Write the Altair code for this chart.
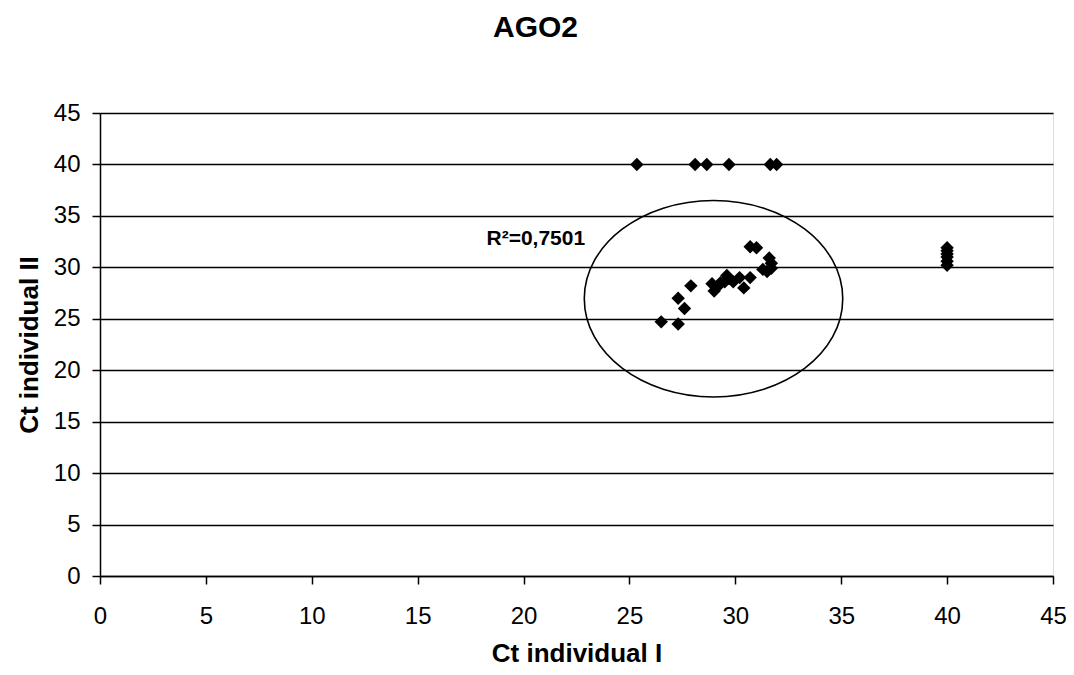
import altair as alt
import pandas as pd

# ---- data ----
ct_individual_i = [
    26.5, 27.3, 27.6, 27.3, 27.9, 28.9, 29.0, 29.2, 29.3, 29.5, 29.6, 29.7,
    29.9, 30.2, 30.4, 30.7, 30.7, 31.0, 31.3, 31.5, 31.6, 31.7, 31.7,
    25.35, 28.1, 28.65, 29.7, 31.65, 31.95,
    40.0, 40.0, 40.0, 40.0, 40.0, 40.0,
]
ct_individual_ii = [
    24.7, 24.5, 26.0, 27.0, 28.2, 28.4, 27.7, 28.2, 28.5, 28.6, 29.2, 28.9,
    28.6, 29.0, 28.0, 29.0, 32.0, 31.9, 29.8, 29.6, 30.9, 30.4, 29.9,
    40.0, 40.0, 40.0, 40.0, 40.0, 40.0,
    30.2, 30.6, 31.0, 31.3, 31.6, 31.9,
]
x_ticks = [0, 5, 10, 15, 20, 25, 30, 35, 40, 45]
y_ticks = [0, 5, 10, 15, 20, 25, 30, 35, 40, 45]

chart_title = "AGO2"
x_title = "Ct individual I"
y_title = "Ct individual II"
r2_text = ["R²=0,7501"]
r2_x = [18.25]
r2_y = [32.2]
ellipse_x = [28.97]
ellipse_y = [26.95]

FONT = "Liberation Sans"
ELLIPSE_PATH = ("M1,0 C1,0.42 0.5523,0.7605 0,0.7605 "
                "C-0.5523,0.7605 -1,0.42 -1,0 "
                "C-1,-0.42 -0.5523,-0.7605 0,-0.7605 "
                "C0.5523,-0.7605 1,-0.42 1,0 Z")

df = pd.DataFrame({"x": ct_individual_i, "y": ct_individual_ii})
ell_df = pd.DataFrame({"x": ellipse_x, "y": ellipse_y})
lbl_df = pd.DataFrame({"x": r2_x, "y": r2_y, "t": r2_text})

xscale = alt.Scale(domain=[0, 45], nice=False, zero=False)
yscale = alt.Scale(domain=[0, 45], nice=False, zero=False)

x_axis = alt.Axis(
    values=x_ticks, title=x_title, grid=False,
    domainColor="black", domainWidth=1.5, tickColor="black", tickWidth=1.5,
    tickSize=8, labelFont=FONT, labelFontSize=24, labelColor="black",
    labelPadding=20, labelFlush=False,
    titleFont=FONT, titleFontSize=26, titleFontWeight="bold", titleColor="black",
    titleBaseline="alphabetic", titleY=85,
)
y_axis = alt.Axis(
    values=y_ticks, title=y_title, grid=True, gridColor="black", gridWidth=1.5,
    gridOpacity=1,
    domainColor="black", domainWidth=1.5, tickColor="black", tickWidth=1.5,
    tickSize=8, labelFont=FONT, labelFontSize=24, labelColor="black",
    labelPadding=12, labelFlush=False,
    titleFont=FONT, titleFontSize=26, titleFontWeight="bold", titleColor="black",
    titleBaseline="alphabetic", titleX=-63, titleY=231.5, titleAngle=270,
)

points = alt.Chart(df).mark_point(
    shape="diamond", filled=True, color="black", size=180, opacity=1
).encode(
    x=alt.X("x:Q", scale=xscale, axis=x_axis),
    y=alt.Y("y:Q", scale=yscale, axis=y_axis),
)

ellipse = alt.Chart(ell_df).mark_point(
    shape=ELLIPSE_PATH, filled=False, color="black", strokeWidth=1.6,
    size=66800, opacity=1
).encode(
    x=alt.X("x:Q", scale=xscale),
    y=alt.Y("y:Q", scale=yscale),
)

label = alt.Chart(lbl_df).mark_text(
    font=FONT, fontSize=21, fontWeight="bold", color="black",
    align="left", baseline="alphabetic"
).encode(
    x=alt.X("x:Q", scale=xscale),
    y=alt.Y("y:Q", scale=yscale),
    text="t:N",
)

chart = alt.layer(ellipse, points, label).properties(
    width=953, height=463,
    title=alt.TitleParams(
        text=chart_title, font=FONT, fontSize=30, fontWeight="bold",
        color="black", anchor="middle", baseline="alphabetic", offset=34, dx=-41,
    ),
    autosize=alt.AutoSizeParams(type="none"),
    padding={"left": 92, "top": 105, "right": 13, "bottom": 91},
).configure_view(stroke=None).configure(background="white")

chart.save("out.html", embed_options={"renderer": "svg", "actions": False})
